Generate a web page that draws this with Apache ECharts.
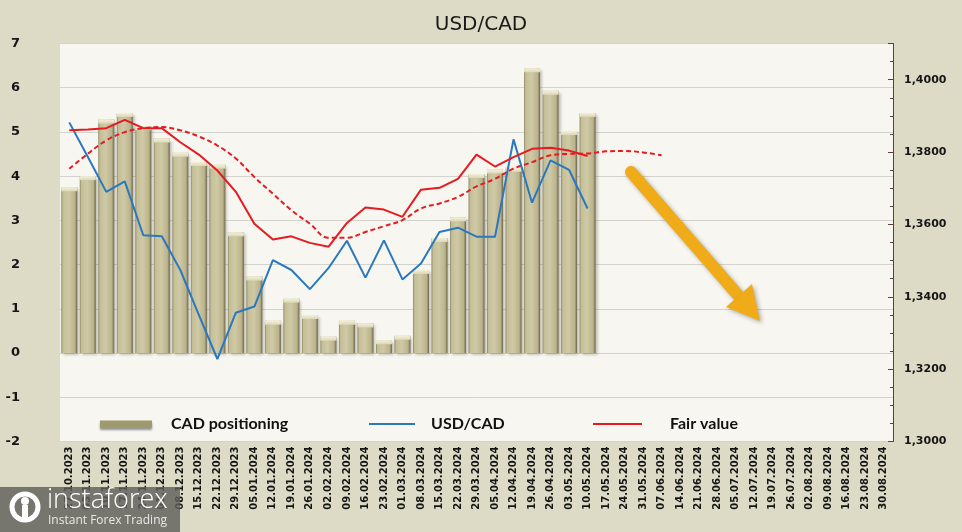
<!DOCTYPE html>
<html><head><meta charset="utf-8">
<script src="https://cdn.jsdelivr.net/npm/echarts@6/dist/echarts.min.js"></script>
<style>html,body{margin:0;padding:0;background:#dddac6}#c{width:962px;height:532px}</style>
</head><body><div id="c"></div>
<script>
const categories = ['27.10.2023','03.11.2023','10.11.2023','17.11.2023','24.11.2023','01.12.2023','08.12.2023','15.12.2023','22.12.2023','29.12.2023','05.01.2024','12.01.2024','19.01.2024','26.01.2024','02.02.2024','09.02.2024','16.02.2024','23.02.2024','01.03.2024','08.03.2024','15.03.2024','22.03.2024','29.03.2024','05.04.2024','12.04.2024','19.04.2024','26.04.2024','03.05.2024','10.05.2024','17.05.2024','24.05.2024','31.05.2024','07.06.2024','14.06.2024','21.06.2024','28.06.2024','05.07.2024','12.07.2024','19.07.2024','26.07.2024','02.08.2024','09.08.2024','16.08.2024','23.08.2024','30.08.2024'];
const cadPositioning = [3.75,4.00,5.28,5.43,5.13,4.85,4.53,4.32,4.26,2.73,1.73,0.73,1.23,0.86,0.37,0.73,0.67,0.29,0.39,1.88,2.60,3.07,4.05,4.15,4.19,6.44,5.93,5.02,5.43];
const usdcad = [1.3882,1.3787,1.3690,1.3719,1.3570,1.3567,1.3474,1.3350,1.3228,1.3356,1.3373,1.3501,1.3474,1.3421,1.3479,1.3555,1.3453,1.3556,1.3448,1.3492,1.3579,1.3591,1.3566,1.3566,1.3835,1.3660,1.3777,1.3751,1.3644];
const fairValue = [1.3860,1.3862,1.3866,1.3889,1.3866,1.3866,1.3827,1.3793,1.3749,1.3690,1.3602,1.3558,1.3567,1.3549,1.3538,1.3604,1.3647,1.3641,1.3621,1.3696,1.3701,1.3726,1.3793,1.3760,1.3786,1.3809,1.3812,1.3804,1.3789];
const fairTrend = [1.3754,1.3795,1.3832,1.3855,1.3866,1.3869,1.3860,1.3843,1.3818,1.3782,1.3731,1.3685,1.3639,1.3602,1.3563,1.3563,1.3579,1.3595,1.3612,1.3644,1.3658,1.3676,1.3705,1.3726,1.3754,1.3772,1.3791,1.3795,1.3796,1.3802,1.3803,1.3799,1.3791];
const leftTicks = {min: -2, max: 7, interval: 1};
const rightTicks = {min: 1.30, max: 1.41, interval: 0.02};

const chart = echarts.init(document.getElementById('c'), null, {renderer: 'canvas'});
const bold = {fontFamily: 'DejaVu Sans', fontWeight: 'bold', color: '#151515'};
const barFill = {type: 'linear', x: 0, y: 0, x2: 1, y2: 0, colorStops: [
  {offset: 0, color: '#8a8560'}, {offset: 0.1, color: '#c4be98'}, {offset: 0.45, color: '#cfcaa5'},
  {offset: 0.85, color: '#bab38c'}, {offset: 1, color: '#6c674a'}]};
const legendText = {fontFamily: 'Lato', fontWeight: 'bold', fontSize: 16, color: '#111'};

chart.setOption({
  backgroundColor: '#dddac6',
  animation: false,
  title: {text: 'USD/CAD', left: 'center', top: 10, textStyle: {fontFamily: 'DejaVu Sans', fontWeight: 'normal', fontSize: 20, color: '#1a1a1a'}},
  grid: {left: 60, right: 69, top: 43.5, bottom: 90.5, show: true, backgroundColor: '#f7f6f1', borderWidth: 0},
  legend: [
    {data: [{name: 'CAD positioning', icon: 'rect', itemStyle: {color: '#9f9a6d', shadowColor: 'rgba(0,0,0,0.4)', shadowBlur: 2, shadowOffsetY: 2}}], left: 95, top: 411, itemWidth: 52, itemHeight: 7, textStyle: Object.assign({padding: [0, 0, 0, 14]}, legendText)},
    {data: [{name: 'USD/CAD', icon: 'rect', itemStyle: {color: '#2a78bd'}}], left: 364, top: 411, itemWidth: 46, itemHeight: 2, textStyle: Object.assign({padding: [0, 0, 0, 11]}, legendText)},
    {data: [{name: 'Fair value', icon: 'rect', itemStyle: {color: '#e51b1f'}}], left: 588, top: 411, itemWidth: 49, itemHeight: 2, textStyle: Object.assign({padding: [0, 0, 0, 23]}, legendText)}
  ],
  xAxis: {
    type: 'category', data: categories, boundaryGap: true,
    axisLine: {show: false}, axisTick: {show: false},
    axisLabel: Object.assign({interval: 0, rotate: 90, fontSize: 10, margin: 5}, bold)
  },
  yAxis: [
    {type: 'value', min: leftTicks.min, max: leftTicks.max, interval: leftTicks.interval, position: 'left',
      axisLine: {show: false}, axisTick: {show: false},
      axisLabel: Object.assign({fontSize: 13, margin: 40, align: 'right'}, bold),
      splitLine: {show: true, lineStyle: {color: '#d3d2cd', width: 1}}},
    {type: 'value', min: rightTicks.min, max: rightTicks.max, interval: rightTicks.interval, position: 'right',
      axisLine: {show: true, lineStyle: {color: '#5b4034', width: 1}},
      axisTick: {show: true, inside: true, length: 5, lineStyle: {color: '#5b4034'}},
      minorTick: {show: true, splitNumber: 4, length: 3, lineStyle: {color: '#5b4034'}},
      splitLine: {show: false},
      axisLabel: Object.assign({fontSize: 11, margin: 11, formatter: v => v > 1.405 ? '' : v.toFixed(4).replace('.', ',')}, bold)}
  ],
  series: [
    {name: 'CAD positioning', type: 'bar', yAxisIndex: 0, data: cadPositioning, barWidth: 16,
      itemStyle: {color: barFill, shadowColor: 'rgba(60,55,30,0.35)', shadowBlur: 3, shadowOffsetX: 2, shadowOffsetY: 2}},
    {name: 'CAD top', type: 'pictorialBar', yAxisIndex: 0, data: cadPositioning, barWidth: 16, symbol: 'rect',
      symbolSize: ['100%', 4], symbolPosition: 'end', symbolOffset: [0, 0], z: 3,
      itemStyle: {color: {type: 'linear', x: 0, y: 0, x2: 0, y2: 1, colorStops: [{offset: 0, color: '#f3f0da'}, {offset: 1, color: '#dcd7b5'}]}}},
    {name: 'USD/CAD', type: 'line', yAxisIndex: 1, data: usdcad, symbol: 'none', z: 5,
      lineStyle: {color: '#2a78bd', width: 2}, itemStyle: {color: '#2a78bd'}},
    {name: 'Fair value', type: 'line', yAxisIndex: 1, data: fairValue, symbol: 'none', z: 5,
      lineStyle: {color: '#e51b1f', width: 2}, itemStyle: {color: '#e51b1f'}},
    {name: 'Fair value trend', type: 'line', yAxisIndex: 1, data: fairTrend, symbol: 'none', smooth: 0.4, z: 4,
      lineStyle: {color: '#e51b1f', width: 2, type: [5, 3]}}
  ],
  graphic: [
    {type: 'line', z: 100, shape: {x1: 631, y1: 172, x2: 737, y2: 294},
      style: {stroke: '#f0ab18', lineWidth: 12, lineCap: 'round', shadowColor: 'rgba(0,0,0,0.3)', shadowBlur: 4, shadowOffsetX: 2, shadowOffsetY: 2}},
    {type: 'polygon', z: 100, shape: {points: [[760, 321], [726, 307], [752, 284]]},
      style: {fill: '#f0ab18', shadowColor: 'rgba(0,0,0,0.3)', shadowBlur: 4, shadowOffsetX: 2, shadowOffsetY: 2}},
    {type: 'rect', z: 200, shape: {x: 0, y: 487, width: 180, height: 45},
      style: {fill: 'rgba(95,95,92,0.82)'}},
    {type: 'circle', z: 201, shape: {cx: 25, cy: 507, r: 13}, style: {fill: 'none', stroke: '#fff', lineWidth: 5}},
    {type: 'circle', z: 201, shape: {cx: 25, cy: 501, r: 4}, style: {fill: '#fff'}},
    {type: 'rect', z: 201, shape: {x: 22, y: 505, width: 6, height: 14}, style: {fill: '#fff'}},
    {type: 'text', z: 201, left: 47, top: 487, style: {text: 'instaforex', fill: '#ffffff', font: '300 27px "Open Sans"'}},
    {type: 'text', z: 201, left: 48, top: 515, style: {text: 'Instant Forex Trading', fill: '#e8e8e8', font: '12px "Open Sans"'}}
  ]
});
</script></body></html>
